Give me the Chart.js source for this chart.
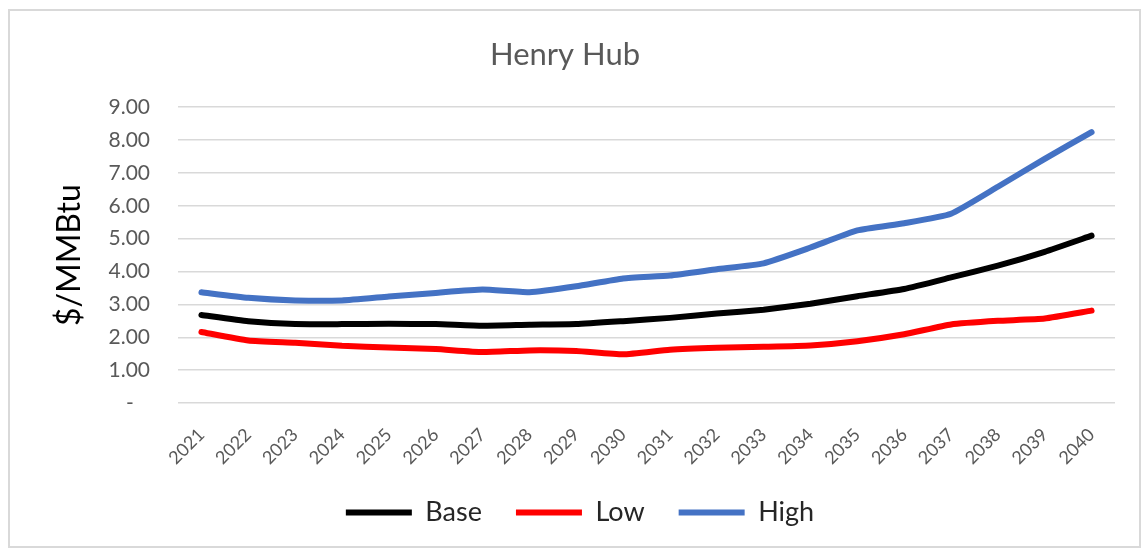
<!DOCTYPE html>
<html>
<head>
<meta charset="utf-8">
<title>Henry Hub</title>
<script src="https://cdn.jsdelivr.net/npm/chart.js@4.4.1/dist/chart.umd.min.js"></script>
<style>
  html, body { margin: 0; padding: 0; background: #ffffff; }
  #wrap { width: 1143px; height: 550px; position: relative; }
</style>
</head>
<body>
<div id="wrap"><canvas id="hubChart"></canvas></div>
<script>
// years on the x axis
const years = ['2021', '2022', '2023', '2024', '2025', '2026', '2027', '2028', '2029', '2030',
               '2031', '2032', '2033', '2034', '2035', '2036', '2037', '2038', '2039', '2040'];

// $/MMBtu
const baseCase = [2.68, 2.49, 2.40, 2.40, 2.41, 2.40, 2.35, 2.38, 2.40, 2.49,
                  2.59, 2.72, 2.84, 3.02, 3.25, 3.47, 3.82, 4.18, 4.60, 5.09];
const lowCase  = [2.16, 1.90, 1.83, 1.74, 1.69, 1.64, 1.55, 1.60, 1.58, 1.48,
                  1.62, 1.68, 1.71, 1.75, 1.88, 2.09, 2.39, 2.50, 2.57, 2.81];
const highCase = [3.37, 3.20, 3.12, 3.12, 3.24, 3.35, 3.45, 3.37, 3.55, 3.79,
                  3.88, 4.07, 4.25, 4.73, 5.25, 5.47, 5.76, 6.58, 7.43, 8.24];

const yTicks = [0, 1, 2, 3, 4, 5, 6, 7, 8, 9];

const FONT = 'Lato, "Open Sans", sans-serif';
const GREY = '#595959';

// white page plus the thin frame round the chart
const framePlugin = {
    id: 'frame',
    beforeDraw(chart) {
        const c = chart.ctx;
        c.save();
        c.fillStyle = '#ffffff';
        c.fillRect(0, 0, chart.width, chart.height);
        c.strokeStyle = '#d9d9d9';
        c.lineWidth = 2;
        c.strokeRect(9, 10, chart.width - 12, chart.height - 13);
        c.restore();
    },
    // legend sits a little right of centre in the original
    afterLayout(chart) {
        chart.legend.left += 15;
        chart.legend.right += 15;
    }
};

function lineSet(label, data, color) {
    return {
        label: label,
        data: data,
        borderColor: color,
        backgroundColor: color,
        borderWidth: 6,
        borderCapStyle: 'round',
        borderJoinStyle: 'round',
        pointRadius: 0,
        pointHoverRadius: 0,
        pointStyle: 'line',
        tension: 0.15,
        fill: false
    };
}

const ctx = document.getElementById('hubChart').getContext('2d');
new Chart(ctx, {
    type: 'line',
    data: {
        labels: years,
        datasets: [
            lineSet('Base', baseCase, '#000000'),
            lineSet('Low', lowCase, '#ff0000'),
            lineSet('High', highCase, '#4472c4')
        ]
    },
    options: {
        responsive: true,
        maintainAspectRatio: false,
        animation: false,
        layout: {
            padding: { top: 22, right: 28, bottom: 14, left: 15 }
        },
        plugins: {
            tooltip: { enabled: false },
            title: {
                display: true,
                text: 'Henry Hub',
                color: GREY,
                font: { family: FONT, size: 31, weight: 'normal' },
                padding: { top: 14, bottom: 34 }
            },
            legend: {
                position: 'bottom',
                labels: {
                    usePointStyle: true,
                    pointStyleWidth: 66,
                    boxHeight: 6,
                    padding: 34,
                    color: '#262626',
                    font: { family: FONT, size: 27 }
                }
            }
        },
        scales: {
            x: {
                offset: true,
                grid: { display: false },
                border: { display: false },
                ticks: {
                    color: GREY,
                    font: { family: FONT, size: 18 },
                    minRotation: 45,
                    maxRotation: 45,
                    autoSkip: false,
                    padding: 13
                },
                afterFit(scale) { scale.height = 62; }
            },
            y: {
                min: 0,
                max: 9,
                afterBuildTicks(scale) {
                    scale.ticks = yTicks.map(v => ({ value: v }));
                },
                grid: { color: '#d9d9d9', lineWidth: 1.5, drawTicks: false },
                border: { display: false },
                ticks: {
                    color: GREY,
                    font: { family: FONT, size: 21 },
                    padding: 28,
                    callback: v => (v === 0 ? '-   ' : v.toFixed(2))
                },
                title: {
                    display: true,
                    text: '$/MMBtu',
                    color: '#000000',
                    font: { family: FONT, size: 32 },
                    padding: { top: 35, bottom: 0 }
                },
                afterFit(scale) { scale.width = 163; }
            }
        }
    },
    plugins: [framePlugin]
});
</script>
</body>
</html>
